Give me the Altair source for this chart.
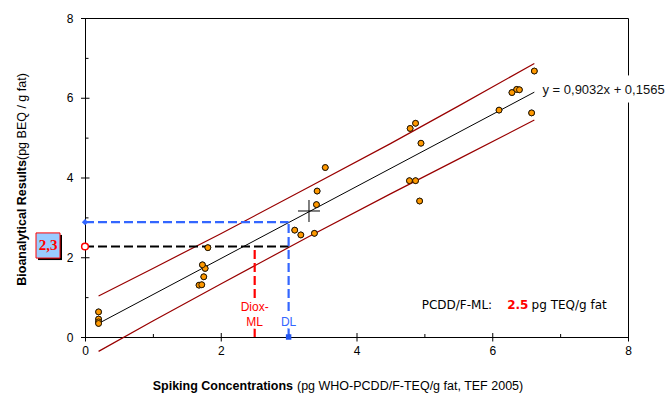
import altair as alt
import pandas as pd

# ---------------- data ----------------
spike_x = [0.20, 0.20, 0.20, 0.20,
           1.68, 1.72, 1.75, 1.77, 1.73, 1.81,
           3.09, 3.18, 3.38, 3.41, 3.42, 3.54,
           4.78, 4.87, 4.93, 4.95, 4.79, 4.87,
           6.10, 6.29, 6.36, 6.40, 6.58, 6.62]
bio_y = [0.63, 0.45, 0.38, 0.34,
         1.30, 1.31, 1.51, 1.72, 1.81, 2.24,
         2.68, 2.56, 2.60, 3.32, 3.66, 4.25,
         3.92, 3.92, 3.41, 4.86, 5.23, 5.36,
         5.69, 6.13, 6.21, 6.20, 5.62, 6.67]

fit_x = [0.20, 6.62]
fit_y = [0.34, 6.14]

band_x = [0.20, 1.00, 2.00, 3.30, 4.50, 5.50, 6.62]
band_upper = [1.03, 1.72, 2.59, 3.76, 4.85, 5.79, 6.86]
band_lower = [-0.36, 0.40, 1.33, 2.52, 3.59, 4.46, 5.44]

centroid_x = [3.30]
centroid_y = [3.16]

dl_x = 3.0          # decision limit (spiking)
dl_y = 2.88         # response at DL
ml_x = 2.5          # maximum level
ml_y = 2.27         # response at ML

major_ticks = [0, 2, 4, 6, 8]
minor_ticks = [1, 3, 5, 7]

equation = "y = 0,9032x + 0,1565"
equation_pos = [6.74, 6.19]
box_label = "2,3"
box_y = [1.98, 2.61]
box_label_y = 2.30

W, H = 543, 319
XS = alt.Scale(domain=[0, 8], nice=False, zero=False)
YS = alt.Scale(domain=[0, 8], nice=False, zero=False)
FONT = "Liberation Sans"

X_AXIS = alt.Axis(values=major_ticks, title=None, grid=False, ticks=False,
                  domain=True, domainColor="black", domainWidth=1,
                  labelColor="black", labelFont=FONT, labelFontSize=12,
                  labelPadding=8, labelFlush=False)
Y_AXIS = alt.Axis(values=major_ticks, title=None, grid=False, ticks=False,
                  domain=True, domainColor="black", domainWidth=1,
                  labelColor="black", labelFont=FONT, labelFontSize=12,
                  labelPadding=12, labelFlush=False)


def xq(field):
    return alt.X(field, type="quantitative", scale=XS, axis=X_AXIS)


def yq(field):
    return alt.Y(field, type="quantitative", scale=YS, axis=Y_AXIS)


# points
pts_df = pd.DataFrame({"x": spike_x, "y": bio_y})
points = alt.Chart(pts_df).mark_circle(color="#FF9900", stroke="black", strokeWidth=0.8,
                                       size=34, opacity=1).encode(x=xq("x"), y=yq("y"))

# frame (top / right)
frame_top = alt.Chart(pd.DataFrame({"a": [0]})).mark_rule(color="black", strokeWidth=1).encode(
    x=alt.value(0.5), x2=alt.value(W + 0.5), y=alt.value(0.5))
frame_right = alt.Chart(pd.DataFrame({"a": [0]})).mark_rule(color="black", strokeWidth=1).encode(
    x=alt.value(W + 0.5), y=alt.value(0.5), y2=alt.value(H + 0.5))

# tick marks: major ones cross the axis, minor ones point inward
maj_df = pd.DataFrame({"v": major_ticks})
min_df = pd.DataFrame({"v": minor_ticks})
xt_major = alt.Chart(maj_df).mark_rule(color="black", xOffset=0.5).encode(
    x=xq("v"), y=alt.value(H + 4.5), y2=alt.value(H - 4))
xt_minor = alt.Chart(min_df).mark_rule(color="black", xOffset=0.5).encode(
    x=xq("v"), y=alt.value(H), y2=alt.value(H - 3))
yt_major = alt.Chart(maj_df).mark_rule(color="black", yOffset=0.5).encode(
    y=yq("v"), x=alt.value(-4), x2=alt.value(4.5))
yt_minor = alt.Chart(min_df).mark_rule(color="black", yOffset=0.5).encode(
    y=yq("v"), x=alt.value(0.5), x2=alt.value(3.5))

# regression + prediction band
fit = alt.Chart(pd.DataFrame({"x": fit_x, "y": fit_y})).mark_line(
    color="black", strokeWidth=1).encode(x=xq("x"), y=yq("y"))
band_df = pd.DataFrame({"x": band_x, "up": band_upper, "lo": band_lower})
upper = alt.Chart(band_df).mark_line(color="#990000", strokeWidth=1.2).encode(
    x=xq("x"), y=yq("up"))
lower = alt.Chart(band_df).mark_line(color="#990000", strokeWidth=1.2).encode(
    x=xq("x"), y=yq("lo"))

# dashed guide lines
seg_df = pd.DataFrame({
    "x": [0, 0, dl_x, ml_x],
    "x2": [dl_x, dl_x, dl_x, ml_x],
    "y": [dl_y, ml_y, 0, 0],
    "y2": [dl_y, ml_y, dl_y, ml_y],
    "c": ["blue", "black", "blue", "red"],
})
seg_colors = alt.Scale(domain=["blue", "black", "red"], range=["#3366FF", "#000000", "#FF0000"])
segs = alt.Chart(seg_df).mark_rule(strokeWidth=2.2, strokeDash=[9, 4]).encode(
    x=xq("x"), x2="x2", y=yq("y"), y2="y2",
    color=alt.Color("c:N", scale=seg_colors, legend=None))

# markers
blue_dot = alt.Chart(pd.DataFrame({"x": [0], "y": [dl_y]})).mark_point(
    shape="diamond", filled=True, color="#3366FF", size=40, opacity=1).encode(x=xq("x"), y=yq("y"))
red_ring = alt.Chart(pd.DataFrame({"x": [0], "y": [ml_y]})).mark_point(
    shape="circle", filled=False, fill="white", fillOpacity=1, stroke="#FF0000", strokeWidth=1.5,
    size=45, opacity=1).encode(x=xq("x"), y=yq("y"))
blue_sq = alt.Chart(pd.DataFrame({"x": [dl_x], "y": [0]})).mark_point(
    shape="square", filled=True, color="#2255EE", size=30, opacity=1).encode(x=xq("x"), y=yq("y"))

cross = alt.Chart(pd.DataFrame({"x": centroid_x, "y": centroid_y})).mark_point(
    shape="M-1,0L1,0M0,-1L0,1", size=484, stroke="black", strokeWidth=1, filled=False,
    opacity=1).encode(x=xq("x"), y=yq("y"))

# equation with white backing over the frame
eq_bg = alt.Chart(pd.DataFrame({"x": [7.9], "x2": [8.1], "y": [5.88], "y2": [6.56]})).mark_rect(
    color="white").encode(x=xq("x"), x2="x2", y=yq("y"), y2="y2")
eq_txt = alt.Chart(pd.DataFrame({"x": [equation_pos[0]], "y": [equation_pos[1]], "t": [equation]})).mark_text(
    align="left", baseline="middle", font=FONT, fontSize=13, color="#111").encode(
    x=xq("x"), y=yq("y"), text="t:N")

# Diox-ML and DL labels (white halo hides the dashed lines behind them)
lab_df = pd.DataFrame({"x": [ml_x, ml_x, dl_x], "y": [0.74, 0.37, 0.37],
                       "t": ["Diox-", "ML", "DL"], "c": ["red", "red", "blue"]})
lab_halo = alt.Chart(lab_df).mark_text(align="center", baseline="middle", font=FONT, fontSize=12,
                                       stroke="white", strokeWidth=5, color="white").encode(
    x=xq("x"), y=yq("y"), text="t:N")
labels = alt.Chart(lab_df).mark_text(align="center", baseline="middle", font=FONT, fontSize=12).encode(
    x=xq("x"), y=yq("y"), text="t:N",
    color=alt.Color("c:N", scale=alt.Scale(domain=["red", "blue"], range=["#FF2222", "#2233EE"]), legend=None))

# PCDD/F-ML note
note_df = pd.DataFrame({"x": [4.96, 6.22, 6.58], "y": [0.79, 0.79, 0.79],
                        "t": ["PCDD/F-ML:", "2.5", "pg TEQ/g fat"]})
note_a = alt.Chart(note_df.iloc[[0, 2]]).mark_text(align="left", baseline="middle", font="DejaVu Sans",
                                                   fontSize=12, color="black").encode(
    x=xq("x"), y=yq("y"), text="t:N")
note_b = alt.Chart(note_df.iloc[[1]]).mark_text(align="left", baseline="middle", font="DejaVu Sans",
                                                fontSize=12, fontWeight="bold", color="#FF0000").encode(
    x=xq("x"), y=yq("y"), text="t:N")

# "2,3" box left of the axis
box_df = pd.DataFrame({"y": [box_y[0]], "y2": [box_y[1]]})
shadow = alt.Chart(box_df).mark_rect(color="black", xOffset=2, x2Offset=2, yOffset=2, y2Offset=2).encode(
    x=alt.value(-49), x2=alt.value(-25), y=yq("y"), y2="y2")
box = alt.Chart(box_df).mark_rect(fill="#99CCFF", stroke="#FF0000", strokeWidth=1).encode(
    x=alt.value(-49), x2=alt.value(-25), y=yq("y"), y2="y2")
box_txt = alt.Chart(pd.DataFrame({"y": [box_label_y], "t": [box_label]})).mark_text(
    align="center", baseline="middle", font="Liberation Serif", fontSize=15, fontWeight="bold",
    color="#FF0000").encode(x=alt.value(-37), y=yq("y"), text="t:N")

# axis titles (mixed weights)
xt_b = alt.Chart(pd.DataFrame({"t": ["Spiking Concentrations"]})).mark_text(
    align="right", baseline="middle", font=FONT, fontSize=12.5,
    fontWeight="bold", color="black").encode(x=alt.value(208), y=alt.value(368), text="t:N")
xt_n = alt.Chart(pd.DataFrame({"t": ["(pg WHO-PCDD/F-TEQ/g fat, TEF 2005)"]})).mark_text(
    align="left", baseline="middle", font=FONT, fontSize=12.5, color="black").encode(
    x=alt.value(212), y=alt.value(368), text="t:N")
yt_b = alt.Chart(pd.DataFrame({"t": ["Bioanalytical Results"]})).mark_text(
    align="right", baseline="middle", angle=270, font=FONT, fontSize=12.5, fontWeight="bold",
    color="black").encode(x=alt.value(-63), y=alt.value(142), text="t:N")
yt_n = alt.Chart(pd.DataFrame({"t": ["(pg BEQ / g fat)"]})).mark_text(
    align="left", baseline="middle", angle=270, font=FONT, fontSize=12.5, color="black").encode(
    x=alt.value(-63), y=alt.value(142), text="t:N")

chart = alt.layer(
    points,
    frame_top, frame_right,
    xt_major, xt_minor, yt_major, yt_minor,
    upper, lower, fit,
    segs, blue_dot, red_ring, blue_sq,
    cross,
    eq_bg, eq_txt, lab_halo, labels, note_a, note_b,
    shadow, box, box_txt,
    xt_b, xt_n, yt_b, yt_n,
    points,
).properties(
    width=W, height=H,
    background="white",
    padding={"left": 85, "top": 18, "right": 41, "bottom": 60},
    autosize=alt.AutoSizeParams(type="none"),
).configure_view(stroke=None)

chart.save("out.html", embed_options={"renderer": "svg", "actions": False})
